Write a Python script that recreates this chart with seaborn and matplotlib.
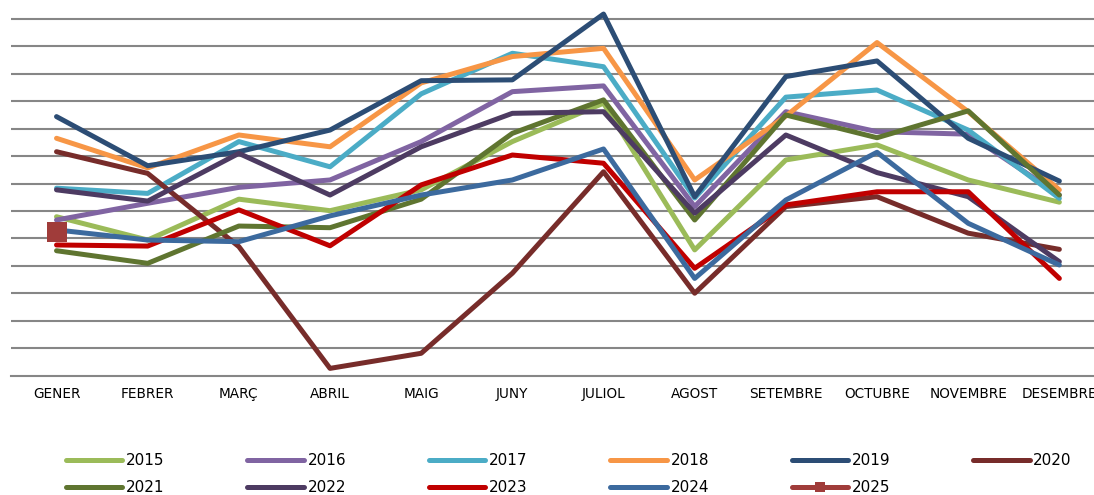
import numpy as np
import pandas as pd
import seaborn as sns
import matplotlib.pyplot as plt

months = ['GENER', 'FEBRER', 'MARÇ', 'ABRIL', 'MAIG', 'JUNY', 'JULIOL',
          'AGOST', 'SETEMBRE', 'OCTUBRE', 'NOVEMBRE', 'DESEMBRE']

y2015 = [5.79, 4.94, 6.43, 6.01, 6.77, 8.53, 9.93, 4.58, 7.86, 8.41, 7.13, 6.32]
y2016 = [5.67, 6.28, 6.86, 7.13, 8.53, 10.35, 10.56, 6.16, 9.62, 8.89, 8.80, 6.58]
y2017 = [6.83, 6.64, 8.53, 7.61, 10.27, 11.75, 11.26, 6.47, 10.15, 10.41, 8.95, 6.46]
y2018 = [8.65, 7.57, 8.77, 8.34, 10.67, 11.63, 11.93, 7.13, 9.46, 12.14, 9.62, 6.77]
y2019 = [9.44, 7.65, 8.16, 8.95, 10.75, 10.78, 13.18, 6.52, 10.90, 11.47, 8.65, 7.09]
y2020 = [8.16, 7.37, 4.70, 0.26, 0.81, 3.73, 7.43, 3.00, 6.16, 6.52, 5.19, 4.60]
y2021 = [4.55, 4.09, 5.45, 5.39, 6.43, 8.83, 10.05, 5.67, 9.50, 8.67, 9.65, 6.58]
y2022 = [6.77, 6.36, 8.10, 6.58, 8.34, 9.56, 9.62, 5.92, 8.77, 7.40, 6.52, 4.15]
y2023 = [4.76, 4.72, 6.04, 4.73, 6.95, 8.04, 7.74, 3.91, 6.22, 6.70, 6.70, 3.54]
y2024 = [5.31, 4.94, 4.88, 5.82, 6.58, 7.13, 8.26, 3.54, 6.40, 8.14, 5.55, 4.03]
y2025 = [5.22]

series = {'2015': y2015, '2016': y2016, '2017': y2017, '2018': y2018,
          '2019': y2019, '2020': y2020, '2021': y2021, '2022': y2022,
          '2023': y2023, '2024': y2024, '2025': y2025}

colors = {'2015': '#9BBB59', '2016': '#8064A2', '2017': '#4BACC6',
          '2018': '#F79646', '2019': '#2C4D75', '2020': '#772C2A',
          '2021': '#5F7530', '2022': '#4D3B62', '2023': '#C00000',
          '2024': '#3C6A9E', '2025': '#A03C3A'}

sns.set_style('white')
fig = plt.figure(figsize=(10.94, 4.95), dpi=100)
ax = fig.add_axes([0.01, 0.2414, 0.99, 0.7485])

for year, vals in series.items():
    df = pd.DataFrame({'mes': np.arange(len(vals)), 'valor': vals})
    if year == '2025':
        sns.lineplot(data=df, x='mes', y='valor', color=colors[year], lw=3.6,
                     marker='s', markersize=14, markeredgewidth=0,
                     label=year, ax=ax, clip_on=False)
    else:
        sns.lineplot(data=df, x='mes', y='valor', color=colors[year], lw=3.6,
                     label=year, ax=ax, solid_capstyle='round',
                     solid_joinstyle='round', clip_on=False)

for k in range(1, 14):
    ax.axhline(k, color='#868686', lw=1.5, zorder=0)

ax.set_xlim(-0.5, 11.38)
ax.set_ylim(0, 13.51)
ax.set_xticks(range(12))
# DESEMBRE runs off the right edge, same as in the original chart
ax.set_xticklabels(months, fontsize=9.8, color='#000000')
ax.set_yticks([])
ax.tick_params(axis='x', length=0, pad=8)
ax.set_xlabel('')
ax.set_ylabel('')
for s in ['top', 'right', 'left']:
    ax.spines[s].set_visible(False)
ax.spines['bottom'].set_color('#868686')
ax.spines['bottom'].set_linewidth(1.5)

ax.legend_.remove()
handles, labels = ax.get_legend_handles_labels()
# legend fills column by column, so interleave to get rows 2015-2020 / 2021-2025
order = [0, 6, 1, 7, 2, 8, 3, 9, 4, 10, 5]
leg = fig.legend([handles[i] for i in order], [labels[i] for i in order],
                 ncol=6, loc='center', bbox_to_anchor=(0.52, 0.042),
                 frameon=False, fontsize=11, handlelength=3.7,
                 handletextpad=0.25, columnspacing=5.4, labelspacing=0.8)
for line in leg.get_lines():
    line.set_linewidth(3.6)
    line.set_markersize(7)
for t in leg.get_texts():
    t.set_color('#000000')

fig.savefig('out.png', dpi=100)
